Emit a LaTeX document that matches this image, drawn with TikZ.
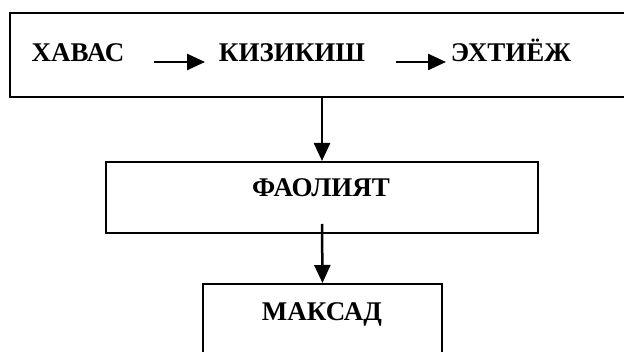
\documentclass[tikz,border=0pt]{standalone}
\usepackage{fontspec}
\setmainfont{Liberation Serif}
\usetikzlibrary{arrows.meta}
\begin{document}
\begin{tikzpicture}[x=1pt,y=-1pt,
  box/.style={draw,line width=2pt,inner sep=0pt},
  lbl/.style={inner sep=0pt,anchor=base,font=\fontsize{27}{32}\selectfont\bfseries},
  arr/.style={line width=2.5pt,-{Triangle[length=18pt,width=16pt]}}]
\useasboundingbox (0,0) rectangle (624,352);
\fill[white] (0,0) rectangle (624,352);
% boxes
\node[box,minimum width=640pt,minimum height=84pt] (top) at (330,55) {};
\node[box,minimum width=432pt,minimum height=71pt] (faol) at (322,197.5) {};
\node[box,minimum width=239pt,minimum height=90pt] (maks) at (322.5,329) {};
% labels
\node[lbl] (xavas) at (78,62) {ХАВАС};
\node[lbl] (kiz) at (292,62) {КИЗИКИШ};
\node[lbl] (ext) at (511,62) {ЭХТИЁЖ};
\node[lbl] (faoltxt) at (321,197) {ФАОЛИЯТ};
\node[lbl] (makstxt) at (322,321) {МАКСАД};
% arrows
\coordinate (a1s) at (154,62);
\coordinate (a1e) at (205,62);
\coordinate (a2s) at (396,62);
\coordinate (a2e) at (446,62);
\draw[arr] (a1s) -- (a1e);
\draw[arr] (a2s) -- (a2e);
\draw[arr] (top.south -| faol.north) -- (faol.north);
\draw[arr] ([yshift=10pt]faol.south) -- (maks.north);
\end{tikzpicture}
\end{document}
